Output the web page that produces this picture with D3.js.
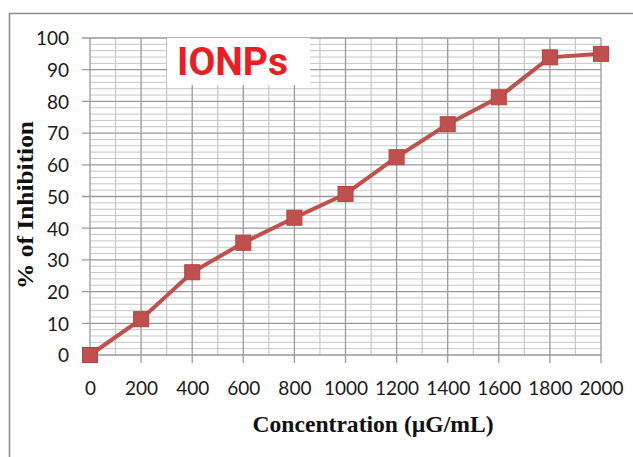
<!DOCTYPE html>
<html>
<head>
<meta charset="utf-8">
<script src="https://cdn.jsdelivr.net/npm/d3@7"></script>
<style>
  html, body { margin: 0; padding: 0; background: #fff; }
  svg { display: block; }
</style>
</head>
<body>
<svg id="chart" width="633" height="457"></svg>
<script>
// Inhibition (%) of IONPs at increasing concentration
const concentrations = [0, 200, 400, 600, 800, 1000, 1200, 1400, 1600, 1800, 2000];
const inhibition = [0, 11.3, 26.1, 35.4, 43.3, 50.8, 62.4, 72.8, 81.3, 93.9, 95.0];
const xTickValues = [0, 200, 400, 600, 800, 1000, 1200, 1400, 1600, 1800, 2000];
const yTickValues = [0, 10, 20, 30, 40, 50, 60, 70, 80, 90, 100];
const chartTitle = "IONPs";
const xTitle = "Concentration (\u00b5G/mL)";
const yTitle = "% of Inhibition";

(function () {
const svg = d3.select("#chart");
const W = 633, H = 457;
const plotL = 90, plotR = 601, plotT = 38, plotB = 355;

const x = d3.scaleLinear().domain([0, 2000]).range([plotL, plotR]);
const y = d3.scaleLinear().domain([0, 100]).range([plotB, plotT]);

// outer frame (top and left edges)
svg.append("path")
  .attr("d", `M9.5,${H} V13.5 H${W}`)
  .attr("fill", "none")
  .attr("stroke", "#8c8c8c")
  .attr("stroke-width", 1.6);

const grid = svg.append("g");

// minor horizontal gridlines every 2 %
grid.selectAll("line.hmin")
  .data(d3.range(0, 101, 2).filter(v => v % 10 !== 0))
  .join("line")
  .attr("x1", plotL).attr("x2", plotR)
  .attr("y1", d => y(d)).attr("y2", d => y(d))
  .attr("stroke", "#c6c6c6").attr("stroke-width", 1);

// minor vertical gridlines every 100
grid.selectAll("line.vmin")
  .data(d3.range(100, 2000, 200))
  .join("line")
  .attr("y1", plotT).attr("y2", plotB)
  .attr("x1", d => x(d)).attr("x2", d => x(d))
  .attr("stroke", "#c6c6c6").attr("stroke-width", 1.2);

// major horizontal gridlines with left ticks
grid.selectAll("line.hmaj")
  .data(yTickValues)
  .join("line")
  .attr("x1", plotL - 8).attr("x2", plotR)
  .attr("y1", d => y(d)).attr("y2", d => y(d))
  .attr("stroke", "#9a9a9a").attr("stroke-width", 1.3);

// major vertical gridlines with bottom ticks
grid.selectAll("line.vmaj")
  .data(xTickValues)
  .join("line")
  .attr("y1", plotT).attr("y2", plotB + 8)
  .attr("x1", d => x(d)).attr("x2", d => x(d))
  .attr("stroke", "#9a9a9a").attr("stroke-width", 1.3);

// tick labels via d3 axes (grid drawn separately)
const yAxis = d3.axisLeft(y).tickValues(yTickValues).tickFormat(d3.format("d"))
  .tickSize(0).tickPadding(21);
svg.append("g")
  .attr("transform", `translate(${plotL},0)`)
  .call(yAxis)
  .call(g => g.select(".domain").remove())
  .selectAll("text")
  .attr("font-family", "Lato, 'Open Sans', sans-serif")
  .attr("font-size", 19)
  .attr("fill", "#1a1a1a")
  .attr("dy", "0.36em");

const xAxis = d3.axisBottom(x).tickValues(xTickValues).tickFormat(d3.format("d"))
  .tickSize(0).tickPadding(27);
svg.append("g")
  .attr("transform", `translate(0,${plotB})`)
  .call(xAxis)
  .call(g => g.select(".domain").remove())
  .selectAll("text")
  .attr("font-family", "Lato, 'Open Sans', sans-serif")
  .attr("font-size", 19)
  .attr("fill", "#1a1a1a");

// title box
svg.append("rect")
  .attr("x", 167).attr("y", plotT)
  .attr("width", 143).attr("height", 47)
  .attr("fill", "#fff");
svg.append("text")
  .attr("x", 177).attr("y", 75)
  .attr("font-family", "Roboto, 'Open Sans', sans-serif")
  .attr("font-weight", "bold")
  .attr("font-size", 39)
  .attr("fill", "#ec1c24")
  .text(chartTitle);

// data line and markers
const pts = concentrations.map((c, i) => [c, inhibition[i]]);
svg.append("path")
  .datum(pts)
  .attr("fill", "none")
  .attr("stroke", "#c0504d")
  .attr("stroke-width", 4)
  .attr("d", d3.line().x(d => x(d[0])).y(d => y(d[1])));

const ms = 15;
svg.selectAll("rect.marker")
  .data(pts)
  .join("rect")
  .attr("class", "marker")
  .attr("x", d => x(d[0]) - ms / 2)
  .attr("y", d => y(d[1]) - ms / 2)
  .attr("width", ms).attr("height", ms)
  .attr("fill", "#c0504d")
  .attr("stroke", "#b8433f")
  .attr("stroke-width", 1);

// axis titles
svg.append("text")
  .attr("transform", "translate(33,205) rotate(-90)")
  .attr("text-anchor", "middle")
  .attr("font-family", "'Liberation Serif', 'Times New Roman', serif")
  .attr("font-weight", "bold")
  .attr("font-size", 24)
  .attr("textLength", 168)
  .attr("lengthAdjust", "spacingAndGlyphs")
  .attr("fill", "#111")
  .text(yTitle);

svg.append("text")
  .attr("x", 373).attr("y", 432)
  .attr("text-anchor", "middle")
  .attr("font-family", "'Liberation Serif', 'Times New Roman', serif")
  .attr("font-weight", "bold")
  .attr("font-size", 24)
  .attr("textLength", 241)
  .attr("lengthAdjust", "spacingAndGlyphs")
  .attr("fill", "#111")
  .text(xTitle);
})();
</script>
</body>
</html>
